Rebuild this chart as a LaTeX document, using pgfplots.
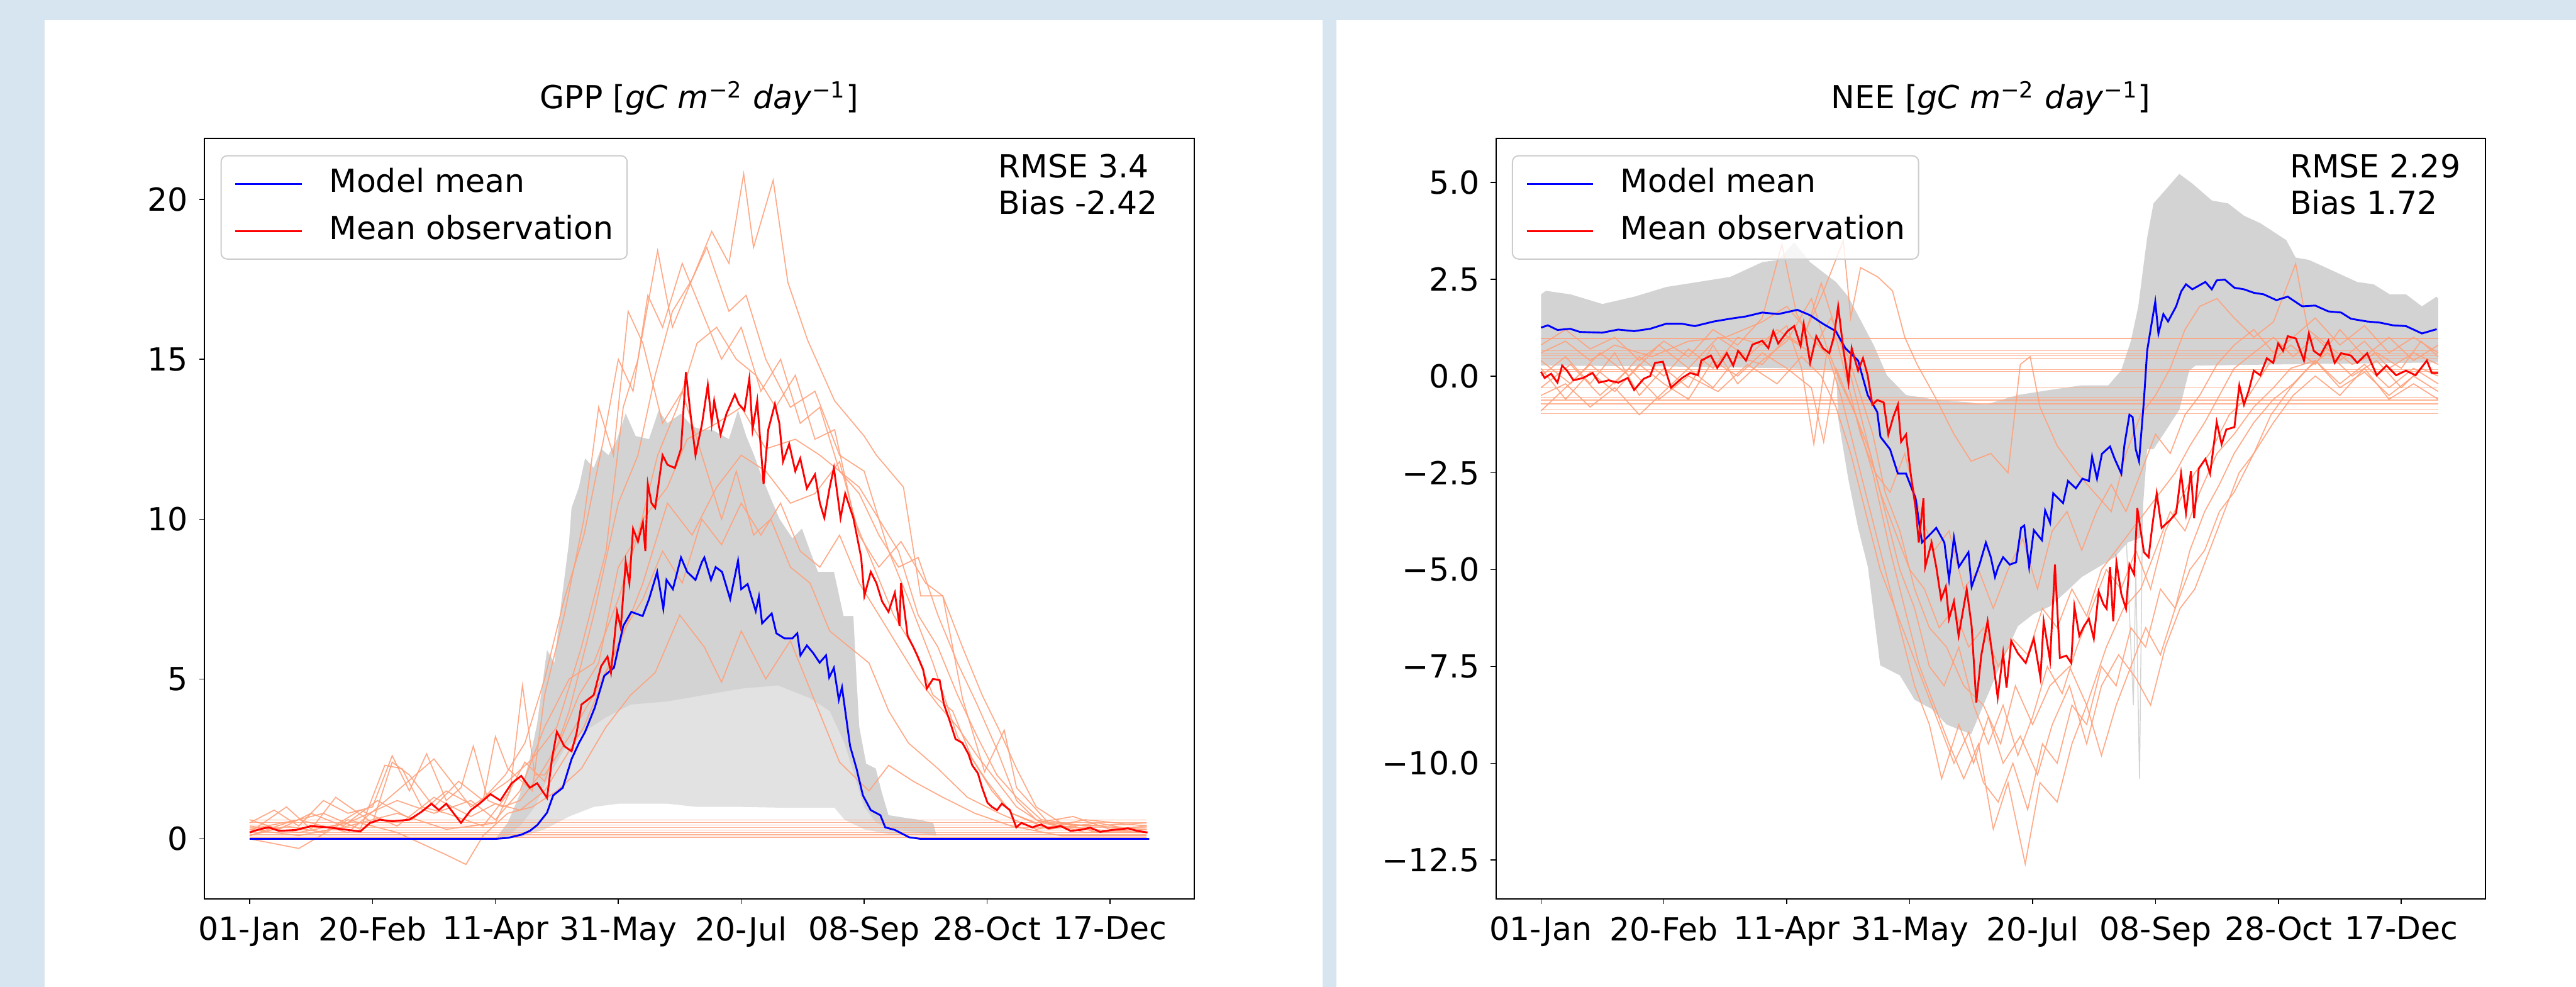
\documentclass[border=0pt]{standalone}
\usepackage{fontspec}
\setmainfont{DejaVu Sans}
\usepackage{pgfplots}
\pgfplotsset{compat=1.18}

\definecolor{bgblue}{RGB}{214,229,239}
\definecolor{obs}{RGB}{255,160,122}
\definecolor{ens}{RGB}{211,211,211}
\definecolor{enslight}{RGB}{226,226,226}
\definecolor{legframe}{RGB}{204,204,204}
\newcommand\ff{\fontsize{10.4pt}{12.5pt}\selectfont}

\pgfplotsset{
  panel/.style={
    scale only axis, width=324pt, height=248.8pt,
    xmin=-18.3, xmax=384.3,
    axis line style={black, line width=0.4pt},
    tick align=outside, major tick length=1.74pt,
    tick style={black, line width=0.3pt},
    xtick pos=left, ytick pos=left,
    xtick={0,50,...,350},
    xticklabels={01-Jan,20-Feb,11-Apr,31-May,20-Jul,08-Sep,28-Oct,17-Dec},
    x tick label style={font=\ff, inner sep=0pt, anchor=north, yshift=-3.8pt},
    y tick label style={font=\ff, inner sep=0pt, anchor=east, xshift=-3.5pt},
    title style={font=\ff, inner sep=0pt, at={(0.5,1)}, anchor=base, yshift=3.8pt},
    legend cell align=left,
    legend image code/.code={\draw[#1] (0pt,0pt) -- (21.7pt,0pt);},
    legend style={
      at={(0.016,0.9783)}, anchor=north west,
      draw=legframe, line width=0.4pt, rounded corners=2pt,
      fill=white, fill opacity=0.8, text opacity=1,
      font=\ff, inner xsep=4.4pt, inner ysep=4.4pt, row sep=5.8pt,
      nodes={inner sep=0pt, text height=7.6pt, text depth=2pt},
      /tikz/every odd column/.append style={column sep=8.7pt},
    },
  },
  site/.style={obs, line width=0.35pt, opacity=0.9, forget plot},
  flat/.style={obs, line width=0.25pt, opacity=0.8, forget plot},
}

\begin{document}
\begin{tikzpicture}
\fill[bgblue] (0pt,0pt) rectangle (843.4pt,323pt);
\fill[white] (14.6pt,0pt) rectangle (433pt,316.4pt);
\fill[white] (437.6pt,0pt) rectangle (843.4pt,316.4pt);

% ---------------- GPP ----------------
\begin{axis}[panel, at={(67pt,28.8pt)}, anchor=south west,
  ymin=-1.874, ymax=21.9,
  ytick={0,5,10,15,20}, yticklabels={0,5,10,15,20},
  title={GPP [\textit{gC m}\textsuperscript{−2} \textit{day}\textsuperscript{−1}]}]

% ensemble envelope (striped part)
\addplot[fill=enslight, draw=none, forget plot] coordinates {
(100,0)(105,0.5)(110,1.4)(114,2.5)(117,3.6)(121,5.9)(124,5.5)(127,7.5)(130,9.3)(131,10.35)(134,11)(136.5,11.9)(140,11.6)(143,12.2)(146,12.0)(149.5,12.5)(153,13.3)(157,12.6)(162.5,12.5)(166.4,13.4)(170,13.0)(175.5,13.3)(180,12.9)(184,12.8)(188,12.8)(195,12.5)(198.7,13.4)(202,12.6)(205.2,12.0)(208,11.4)(211.7,10.7)(215.6,10.0)(220.8,9.4)(224.7,9.7)(228,9.0)(231.2,8.35)(237.7,8.35)(241.6,6.97)(245.6,6.97)(246.9,4.97)(248,3.5)(250.8,2.35)(254.7,2.2)(257,1.5)(259.9,0.74)(266.4,0.66)(272.9,0.59)(278.1,0.5)(279.4,0.1)
(260,0.15)(250,0.3)(242,0.6)(238,0.97)(220,0.97)(200,1.0)(182,1.0)(170,1.1)(150,1.1)(140,1.0)(130,0.7)(120,0.3)(110,0.05)
} -- cycle;
% ensemble envelope (dense part)
\addplot[fill=ens, draw=none, forget plot] coordinates {
(100,0)(105,0.5)(110,1.4)(114,2.5)(117,3.6)(121,5.9)(124,5.5)(127,7.5)(130,9.3)(131,10.35)(134,11)(136.5,11.9)(140,11.6)(143,12.2)(146,12.0)(149.5,12.5)(153,13.3)(157,12.6)(162.5,12.5)(166.4,13.4)(170,13.0)(175.5,13.3)(180,12.9)(184,12.8)(188,12.8)(195,12.5)(198.7,13.4)(202,12.6)(205.2,12.0)(208,11.4)(211.7,10.7)(215.6,10.0)(220.8,9.4)(224.7,9.7)(228,9.0)(231.2,8.35)(237.7,8.35)(241.6,6.97)(245.6,6.97)(246.9,4.97)(248,3.5)(250.8,2.35)(254.7,2.2)(257,1.5)(259.9,0.74)(266.4,0.66)(272.9,0.59)(278.1,0.5)(279.4,0.1)
(272,0.2)(262,0.3)(255,0.5)(250,1.0)(246,2.0)(242,3.0)(236,4.0)(228,4.4)(215,4.8)(200,4.7)(185,4.5)(170,4.3)(155,4.2)(145,3.8)(135,3.3)(128,2.8)(122,2.0)(116,1.0)(110,0.4)(105,0.1)
} -- cycle;

% observation sites
\addplot[site] coordinates {(0,0.3)(20,0.6)(40,0.2)(60,1.5)(75,2.5)(90,1.0)(105,1.8)(115,2.5)(125,3.5)(135,6)(145,9)(152,13.5)(158,15)(166,18.4)(172,16)(180,17.5)(188,19)(195,18)(201,20.8)(205,18.5)(213,20.6)(219,17.4)(227,15.6)(238,13.7)(250,12.6)(255,12)(266,11)(273,7.6)(282,7.6)(290,4.4)(299,2.1)(307,3.4)(312,1.6)(325,0.5)(345,0.4)(365,0.3)};
\addplot[site] coordinates {(0,0.1)(15,0.5)(30,0.8)(45,0.3)(55,2.3)(62,2.2)(70,1.0)(80,0.8)(95,0.4)(105,1.4)(112,2.4)(120,1.8)(130,4)(140,7)(150,10.5)(158,12)(165,14.5)(172,16.5)(180,17.5)(186,18.5)(195,16.5)(202,17)(210,15)(220,13.5)(230,14)(240,12)(250,11.5)(260,9)(268,7.5)(278,5.5)(288,3.2)(300,1.8)(310,0.8)(325,0.3)(345,0.5)(365,0.2)};
\addplot[site] coordinates {(0,0.4)(20,0.2)(40,0.5)(60,1.2)(75,0.8)(90,1.2)(100,0.6)(110,1.5)(120,3.5)(130,5)(140,5.5)(150,7.5)(160,10)(170,11)(178,12.5)(190,13)(200,13.5)(210,12.2)(222,12.5)(232,12)(240,11.5)(248,10.8)(256,9.5)(264,8.5)(272,8.8)(280,7)(288,5.5)(296,4.2)(304,2.8)(312,1.2)(320,0.6)(340,0.2)(365,0.3)};
\addplot[site] coordinates {(0,0.0)(20,-0.3)(40,0.6)(60,0.2)(80,-0.5)(88,-0.8)(95,0.1)(105,0.8)(115,1.0)(125,1.5)(135,2.2)(145,3.5)(155,4.5)(165,5.2)(175,7)(185,6)(192,4.9)(200,6.5)(210,5)(220,6.2)(230,4.3)(240,2.4)(252,1.5)(260,2.3)(270,1.8)(282,1.3)(295,0.8)(310,0.4)(330,0.1)(365,0.1)};
\addplot[site] coordinates {(0,0.2)(15,1.0)(25,0.3)(35,1.3)(50,0.5)(58,2.4)(65,2.0)(75,1.0)(85,1.8)(95,1.2)(100,3.2)(105,2.2)(115,1.5)(120,4.5)(128,7)(136,10)(142,13.5)(148,12)(154,16.5)(160,15.5)(168,13)(176,14)(184,12)(192,10)(198,11.5)(205,9.5)(212,10)(220,8.5)(228,8)(236,6.5)(244,6)(252,5.5)(260,4)(268,3)(280,2.2)(292,1.3)(305,0.8)(320,0.3)(340,0.6)(365,0.4)};
\addplot[site] coordinates {(0,0.3)(20,0.1)(40,0.4)(60,0.8)(80,0.3)(100,0.5)(106,1.5)(111,4.8)(116,2.0)(120,2.0)(130,3.2)(140,4.5)(150,6)(160,8)(170,10.5)(180,9.5)(190,11)(200,12)(210,11.5)(220,10.5)(230,10.8)(240,11.8)(248,9.5)(256,8.5)(265,9.3)(275,8)(282,7.6)(290,6)(298,4.5)(305,3.4)(312,2.2)(320,1.0)(330,0.5)(345,0.2)(365,0.2)};
\addplot[site] coordinates {(0,0.5)(10,0.9)(20,0.4)(30,1.2)(40,0.8)(50,1.0)(58,2.6)(65,1.5)(72,2.66)(80,1.2)(86,1.6)(91,2.9)(97,1.2)(103,1.0)(110,1.2)(118,2.0)(126,3.0)(134,4.5)(142,5.5)(150,8.5)(158,9.5)(166,12)(174,13.5)(182,15.5)(190,16)(198,15)(206,14.5)(214,13.5)(222,14.5)(230,12.5)(238,12.8)(246,10)(254,8.5)(262,7)(270,6)(278,4.5)(286,4.0)(294,2.5)(302,1.5)(310,0.8)(320,0.5)(335,0.7)(350,0.3)(365,0.4)};
\addplot[site] coordinates {(0,0.1)(15,0.4)(30,0.2)(45,0.9)(60,0.4)(75,1.3)(90,0.7)(100,1.1)(110,0.9)(120,1.5)(128,2.5)(136,3.5)(144,5)(152,6.5)(160,7.5)(168,9)(176,8)(184,10)(192,9.2)(200,10.5)(208,9.5)(216,10.5)(224,9.0)(232,8.5)(240,9.5)(248,8.0)(256,7.0)(264,6.0)(272,5.0)(280,4.2)(288,3.5)(296,2.6)(304,1.8)(312,1.0)(322,0.5)(340,0.3)(365,0.2)};
\addplot[site] coordinates {(0,0.6)(12,0.3)(25,0.8)(38,0.4)(52,1.2)(66,0.6)(80,1.5)(92,1.0)(104,2.0)(112,3.0)(120,5.0)(128,7.5)(136,9.5)(144,12.5)(150,15)(156,14)(162,17)(168,16)(176,18)(184,16.5)(192,15)(200,16)(208,14)(216,15)(224,13)(232,13.5)(240,11.5)(248,11)(256,10)(264,9)(272,7)(280,6)(288,4.5)(296,3.2)(304,2.0)(312,1.3)(322,0.6)(340,0.4)(365,0.5)};
\addplot[flat] coordinates {(0,0.05)(365,0.05)};
\addplot[flat] coordinates {(0,0.13)(365,0.13)};
\addplot[flat] coordinates {(0,0.20)(365,0.20)};
\addplot[flat] coordinates {(0,0.28)(365,0.28)};
\addplot[flat] coordinates {(0,0.36)(365,0.36)};
\addplot[flat] coordinates {(0,0.43)(365,0.43)};
\addplot[flat] coordinates {(0,0.51)(365,0.51)};
\addplot[flat] coordinates {(0,0.59)(365,0.59)};

\addplot[blue, line width=0.6pt] coordinates {(0,0)(100,0)(105,0.03)(110.5,0.13)(114,0.25)(117,0.43)(121,0.82)(123.5,1.36)(127.4,1.6)(129,2.0)(131,2.5)(134,3.0)(136.5,3.35)(140.4,4.1)(144.3,5.1)(148.2,5.35)(152,6.66)(155.3,7.1)(159.9,6.97)(162.5,7.5)(165.8,8.35)(168.3,7.2)(169.6,8.1)(172.2,7.81)(175.5,8.8)(178,8.35)(181.4,8.1)(184,8.66)(185,8.8)(187.7,8.1)(189.6,8.5)(192.2,8.35)(195.5,7.5)(198.7,8.7)(200,7.81)(202.6,7.97)(205.9,7.12)(207.2,7.58)(208.5,6.74)(212.4,7.05)(214.3,6.43)(217.6,6.27)(220.8,6.27)(222.8,6.43)(224.1,5.74)(226.7,6.05)(229.3,5.81)(231.9,5.51)(234.5,5.74)(235.8,5.05)(237.7,5.35)(239.7,4.35)(241,4.74)(244.3,2.9)(246.9,2.2)(249.5,1.36)(252.7,0.9)(256.6,0.74)(258.6,0.36)(262.5,0.28)(268.3,0.05)(273,0)(366,0)};
\addlegendentry{Model mean}
\addplot[red, line width=0.6pt] coordinates {(0,0.2)(4,0.3)(7.7,0.36)(12,0.25)(19,0.28)(25,0.4)(32,0.36)(38,0.3)(45,0.23)(49,0.5)(53,0.6)(58,0.55)(65,0.6)(70,0.85)(74,1.1)(77,0.9)(80,1.1)(83,0.8)(86,0.5)(90,0.9)(93.5,1.1)(98,1.4)(102,1.2)(106.6,1.74)(110.5,1.97)(114,1.6)(117,1.74)(121,1.28)(123,2.5)(125,3.35)(128,2.9)(131,2.74)(133,3.3)(135,4.2)(140,4.5)(143,5.4)(145.6,5.7)(147,5.2)(149.5,7.1)(151,6.6)(153,8.66)(154.5,8.0)(156,9.7)(158,9.3)(160,9.9)(161,9.0)(162,11.1)(163.5,10.5)(165,10.35)(168,12.0)(170,11.7)(173,11.6)(175.5,12.2)(177.5,14.6)(179.5,13.2)(181.4,12.0)(184,12.96)(186.4,14.2)(188,13.0)(189,13.7)(191.6,12.65)(194,13.3)(197.4,13.9)(199,13.6)(201.3,13.4)(203.3,14.4)(204.6,12.8)(206.5,13.7)(209.1,11.1)(211,12.8)(213.7,13.6)(215.5,13.0)(217,11.8)(219.5,12.35)(222,11.5)(224,11.9)(226.7,10.96)(230,11.4)(232,10.5)(233.8,10.04)(236,11.0)(237.7,11.6)(240.4,10.04)(242.3,10.8)(245.6,10.04)(247,9.5)(248.8,8.8)(250.1,7.6)(252.7,8.35)(255,8.0)(257.3,7.43)(259.9,7.1)(262.5,7.7)(264.4,6.66)(265,8.0)(267.7,6.35)(270,6.0)(271.6,5.74)(274,5.3)(275.5,4.7)(278,5.0)(280.7,4.97)(282.5,4.2)(284.6,3.74)(287.2,3.12)(290,3.0)(292.4,2.66)(294,2.3)(296.3,2.05)(298,1.6)(300.2,1.13)(302,1.0)(304.1,0.9)(306,1.1)(309.3,0.9)(311.9,0.36)(314,0.5)(318.4,0.36)(322,0.45)(325,0.33)(330,0.4)(334,0.25)(338,0.28)(342,0.35)(346,0.22)(351,0.28)(354,0.3)(357.4,0.33)(361,0.25)(365.3,0.2)};
\addlegendentry{Mean observation}

\node[anchor=base west, font=\ff, inner sep=0pt] at (rel axis cs:0.8016,0.9486) {RMSE 3.4};
\node[anchor=base west, font=\ff, inner sep=0pt] at (rel axis cs:0.8016,0.9003) {Bias -2.42};
\end{axis}

% ---------------- NEE ----------------
\begin{axis}[panel, at={(489.8pt,28.8pt)}, anchor=south west,
  ymin=-13.5, ymax=6.13,
  ytick={-12.5,-10,-7.5,-5,-2.5,0,2.5,5},
  yticklabels={−12.5,−10.0,−7.5,−5.0,−2.5,0.0,2.5,5.0},
  title={NEE [\textit{gC m}\textsuperscript{−2} \textit{day}\textsuperscript{−1}]}]

\addplot[fill=ens, draw=none, forget plot] coordinates {
(0,2.11)(2,2.2)(12,2.11)(25,1.86)(38,2.05)(51,2.3)(64,2.43)(77,2.56)(90,2.94)(96.5,3.0)(103,3.45)(109.5,2.94)(116,2.62)(120,2.43)(125,2.05)(130.3,1.41)(135.5,0.78)(140.7,0.02)(148.5,-0.49)(161.5,-0.62)(174.5,-0.68)(180.8,-0.74)(194,-0.49)(207,-0.36)(220,-0.24)(230.8,-0.24)(236,0.14)(240,0.91)(243,1.8)(245.3,2.94)(246.6,3.57)(249.2,4.46)(254.5,4.84)(259.7,5.22)(265,4.97)(273,4.53)(279.5,4.46)(286,4.14)(292.6,3.95)(303.2,3.51)(307,3.06)(312.4,3.0)(319,2.81)(325.5,2.62)(332,2.43)(338.7,2.37)(345.3,2.11)(351.9,2.11)(358.4,1.8)(364.3,2.05)(365,2.0)
(365,0.35)(300,0.3)(266.3,0.27)(263.7,0.14)(259.7,-0.87)(254.5,-1.38)(249.2,-1.89)(246.6,-1.89)(244,-4.17)(238.7,-4.3)(233.4,-4.68)(226.9,-4.93)(220,-5.19)(213.7,-5.57)(207,-5.95)(200.5,-6.14)(194,-6.46)(188,-7.3)(182,-8.2)(175,-9.25)(165,-9.0)(159,-8.6)(152,-8.36)(146,-7.73)(138,-7.47)(135.5,-6.2)(133,-4.93)(129,-3.92)(125,-2.65)(121,-1.13)(120,0.14)(100,0.2)(50,0.25)(0,0.27)
} -- cycle;
\addplot[ens, line width=0.3pt, forget plot] coordinates {(238,-4)(241,-8.5)(242,-5)(243.5,-10.4)(245,-2)(247,1)};

\addplot[site] coordinates {(0,0.6)(10,0.9)(20,0.4)(30,0.8)(45,0.5)(60,0.9)(75,1.0)(90,1.4)(100,1.8)(108,1.2)(115,2.2)(123,3.5)(126,1.5)(130,2.8)(137,2.56)(143,2.2)(148,1.0)(153,0.3)(160,-0.5)(168,-1.5)(175,-2.2)(183,-2.0)(190,-2.5)(195,0.3)(199,0.5)(203,-0.8)(210,-1.8)(218,-2.5)(225,-3.0)(232,-3.5)(238,-2.0)(244,-1.0)(250,-0.5)(256,0.2)(262,1.2)(268,1.8)(275,2.0)(282,1.5)(290,1.0)(298,1.4)(307,2.9)(312,1.2)(320,0.8)(330,0.3)(340,0.6)(350,0.2)(358,0.9)(365,0.5)};
\addplot[site] coordinates {(0,-0.5)(10,-0.2)(20,-0.8)(30,-0.3)(40,-1.0)(50,-0.4)(60,0.2)(70,-0.3)(80,0.5)(90,0.3)(100,1.0)(110,0.6)(118,1.5)(125,0.5)(130,-0.5)(135,-1.5)(140,-3.0)(146,-4.0)(152,-5.5)(158,-6.5)(165,-7.0)(172,-8.0)(180,-8.5)(187,-9.5)(193,-8.0)(200,-9.0)(207,-8.0)(215,-7.5)(222,-8.5)(230,-7.0)(237,-6.0)(244,-5.5)(250,-4.5)(256,-3.5)(262,-4.0)(268,-3.0)(275,-2.0)(282,-1.5)(290,-0.8)(298,-0.3)(305,0.2)(315,0.4)(325,-0.2)(335,0.3)(345,-0.3)(355,0.2)(365,-0.2)};
\addplot[site] coordinates {(0,0.2)(10,-0.6)(20,0.1)(30,-0.4)(40,0.3)(50,-0.2)(60,-0.6)(70,0.4)(80,0.0)(90,0.6)(100,0.2)(110,-0.3)(115,-1.7)(120,0.2)(128,-1.0)(135,-2.5)(142,-4.5)(148,-6.0)(154,-7.5)(160,-8.5)(166,-9.5)(172,-10.4)(178,-9.5)(184,-11.7)(190,-10.5)(197,-12.6)(203,-10.5)(210,-11.0)(216,-9.5)(222,-8.5)(228,-9.8)(234,-8.5)(240,-7.5)(246,-6.5)(252,-7.2)(258,-6.0)(264,-5.0)(270,-4.5)(276,-3.5)(282,-3.0)(290,-2.0)(298,-1.2)(306,-0.5)(315,0.0)(325,-0.5)(335,0.2)(345,-0.6)(355,-0.2)(365,-0.6)};
\addplot[site] coordinates {(0,0.8)(10,1.2)(20,0.7)(30,1.0)(40,0.4)(50,0.9)(60,0.5)(70,1.2)(80,0.8)(90,1.5)(98,3.4)(104,1.6)(110,1.0)(117,0.5)(122,-0.5)(128,-2.0)(134,-3.5)(140,-5.0)(146,-6.5)(152,-8.0)(158,-9.0)(163,-10.4)(170,-9.0)(176,-10.0)(182,-8.8)(188,-10.0)(195,-9.3)(202,-10.3)(208,-9.0)(215,-8.0)(222,-9.5)(228,-8.0)(235,-7.2)(242,-7.8)(248,-8.5)(254,-7.0)(260,-6.0)(266,-5.5)(272,-4.5)(278,-3.5)(284,-2.5)(290,-2.0)(297,-1.0)(305,-0.3)(312,0.2)(320,0.6)(330,0.0)(340,0.4)(350,-0.3)(358,0.2)(365,0.0)};
\addplot[site] coordinates {(0,-0.9)(10,-0.3)(20,0.3)(30,-0.2)(40,0.5)(50,0.0)(60,0.7)(70,0.2)(80,1.0)(90,0.8)(100,1.3)(106,0.2)(111,-1.76)(116,0.5)(120,1.0)(124,0.0)(130,-1.5)(136,-2.5)(142,-3.0)(148,-2.0)(154,-3.5)(160,-4.5)(166,-4.0)(172,-5.5)(178,-5.0)(184,-6.0)(190,-5.0)(196,-4.2)(202,-5.5)(208,-4.0)(214,-3.5)(220,-4.5)(226,-3.5)(232,-2.8)(238,-3.5)(244,-2.5)(250,-1.5)(256,-2.0)(262,-1.0)(268,-0.5)(275,0.3)(282,0.8)(290,1.2)(298,0.6)(306,1.0)(315,1.5)(325,0.8)(335,1.3)(345,0.6)(355,1.0)(365,0.6)};
\addplot[site] coordinates {(0,0.0)(10,0.5)(20,-0.2)(30,0.6)(40,-0.5)(50,0.2)(60,-0.3)(70,0.8)(80,-0.2)(90,0.4)(100,0.9)(110,2.0)(116,0.8)(122,-0.2)(128,-1.0)(134,-2.0)(140,-3.5)(146,-5.0)(152,-6.0)(158,-7.5)(164,-8.0)(170,-7.0)(176,-8.5)(182,-9.5)(188,-8.5)(194,-9.8)(200,-8.8)(206,-7.5)(212,-8.2)(218,-7.0)(224,-6.0)(230,-5.0)(236,-5.5)(242,-4.5)(248,-5.5)(254,-4.0)(260,-3.2)(266,-2.5)(272,-2.0)(280,-1.0)(288,-0.5)(296,0.3)(305,0.8)(315,0.3)(325,1.2)(335,0.5)(345,1.0)(355,0.4)(365,0.8)};
\addplot[site] coordinates {(0,0.4)(12,-0.2)(24,0.6)(36,0.0)(48,0.8)(60,0.2)(72,1.0)(84,0.5)(96,1.2)(106,0.8)(114,2.4)(120,1.2)(126,0.0)(132,-1.5)(138,-3.0)(144,-4.0)(150,-5.0)(156,-5.5)(162,-6.5)(168,-6.0)(174,-7.0)(180,-6.5)(186,-7.5)(192,-6.8)(198,-7.2)(204,-6.0)(210,-6.5)(216,-5.5)(222,-6.2)(228,-5.0)(234,-4.5)(240,-4.0)(246,-3.5)(252,-3.0)(258,-2.5)(264,-1.8)(270,-1.2)(276,-0.5)(282,0.2)(290,0.6)(298,1.0)(306,0.5)(315,1.0)(325,0.4)(335,0.9)(345,0.2)(355,0.6)(365,0.3)};
\addplot[site] coordinates {(0,-0.3)(12,0.3)(24,-0.5)(36,0.2)(48,-0.6)(60,0.0)(72,-0.4)(84,0.3)(96,-0.2)(106,0.5)(114,0.0)(120,-0.8)(126,-2.0)(132,-3.5)(138,-5.0)(144,-6.0)(150,-7.0)(156,-8.0)(162,-9.0)(168,-10.0)(174,-9.2)(180,-10.5)(186,-11.0)(192,-10.0)(198,-11.2)(204,-9.5)(210,-10.0)(216,-8.5)(222,-9.0)(228,-7.5)(234,-8.0)(240,-6.5)(246,-7.0)(252,-5.5)(258,-6.0)(264,-4.5)(270,-3.5)(276,-2.8)(282,-2.0)(290,-1.2)(298,-0.6)(306,-0.2)(315,0.4)(325,-0.3)(335,0.1)(345,-0.5)(355,0.0)(365,-0.4)};
\addplot[flat] coordinates {(0,0.97)(365,0.97)};
\addplot[flat] coordinates {(0,0.65)(365,0.65)};
\addplot[flat] coordinates {(0,0.59)(365,0.59)};
\addplot[flat] coordinates {(0,0.53)(365,0.53)};
\addplot[flat] coordinates {(0,0.46)(365,0.46)};
\addplot[flat] coordinates {(0,0.17)(365,0.17)};
\addplot[flat] coordinates {(0,0.12)(365,0.12)};
\addplot[flat] coordinates {(0,-0.30)(365,-0.30)};
\addplot[flat] coordinates {(0,-0.55)(365,-0.55)};
\addplot[flat] coordinates {(0,-0.62)(365,-0.62)};
\addplot[flat] coordinates {(0,-0.72)(365,-0.72)};
\addplot[flat] coordinates {(0,-0.87)(365,-0.87)};
\addplot[flat] coordinates {(0,-0.97)(365,-0.97)};

\addplot[blue, line width=0.6pt] coordinates {(0,1.25)(2.8,1.31)(6.7,1.19)(11.9,1.22)(15.8,1.14)(24.9,1.12)(31.4,1.2)(37.9,1.16)(44.4,1.22)(50.9,1.35)(57.4,1.35)(62.6,1.29)(70.4,1.41)(77,1.48)(83.4,1.54)(90,1.64)(96.5,1.6)(104.3,1.71)(109.5,1.57)(114.7,1.35)(119.9,1.16)(123.8,0.72)(129,0.4)(132.9,-0.49)(136.8,-0.93)(138.1,-1.57)(142,-1.89)(145.2,-2.52)(148.5,-2.52)(152.4,-3.16)(155,-4.3)(158.9,-4.05)(160.8,-3.92)(164.1,-4.3)(166,-5.25)(168,-4.17)(170,-4.93)(173.9,-4.55)(175.2,-5.44)(178.4,-4.87)(181,-4.3)(183,-4.68)(184.7,-5.19)(186,-4.93)(188,-4.68)(190.7,-4.87)(193.3,-4.81)(195.3,-3.92)(196.6,-3.86)(198.6,-4.93)(200.5,-3.98)(203.8,-4.24)(205.1,-3.47)(207.1,-3.79)(208.4,-3.03)(212.4,-3.28)(214.4,-2.71)(217.6,-2.9)(220.3,-2.65)(222.9,-2.71)(224.2,-2.08)(226.2,-2.65)(228.2,-2.01)(231.5,-1.82)(233.4,-2.14)(236.1,-2.52)(237.4,-1.76)(239.4,-1.0)(240.7,-1.06)(242,-1.9)(243.3,-2.2)(245.3,-0.62)(246.6,0.65)(247.9,1.16)(249.9,1.92)(251.2,1.1)(253.2,1.6)(255.1,1.41)(258.4,1.8)(260.4,2.18)(262.4,2.37)(265,2.24)(270.3,2.43)(272.9,2.24)(274.9,2.47)(278.2,2.49)(282.1,2.28)(286,2.24)(290,2.15)(294,2.11)(299.2,1.96)(303.8,2.05)(309.7,1.8)(315,1.82)(320.3,1.67)(325.5,1.64)(329.5,1.48)(336,1.41)(341.3,1.38)(346.6,1.31)(351.9,1.29)(358.4,1.1)(364.4,1.21)};
\addlegendentry{Model mean}
\addplot[red, line width=0.6pt] coordinates {(0,0.11)(1.5,-0.05)(4.1,0.06)(6.7,-0.17)(8.6,0.27)(10.6,0.14)(13.2,-0.11)(17.1,-0.05)(21,0.08)(23.6,-0.17)(27.5,-0.11)(31.4,-0.17)(35.3,-0.05)(37.9,-0.36)(41.8,-0.07)(44.4,0.0)(46.4,0.34)(49.6,0.37)(52.9,-0.3)(57.4,-0.05)(60.7,0.08)(63.9,0.02)(65.2,0.4)(69.1,0.53)(71.7,0.21)(75.6,0.59)(78.2,0.27)(80.2,0.65)(83.4,0.4)(86,0.81)(90,0.91)(92.5,0.72)(94.5,1.16)(96.5,0.84)(100.3,1.16)(103,1.29)(105.6,0.78)(106.9,1.35)(109.5,0.34)(112,1.03)(114.7,0.72)(117.3,0.59)(119.2,1.03)(120.9,1.8)(123.1,0.65)(125.1,-0.17)(126.4,0.72)(129,0.14)(131,0.46)(132.9,0.02)(134.8,-0.74)(136.8,-0.62)(139.4,-0.68)(141.3,-1.51)(143.3,-1.06)(145.2,-0.74)(146.5,-1.7)(148.5,-1.51)(150.4,-2.52)(152.4,-3.41)(153.7,-4.3)(155.6,-3.16)(156.3,-4.93)(158.9,-4.3)(160.8,-4.93)(162.8,-5.76)(164.7,-5.44)(166,-6.27)(168,-5.82)(169.9,-6.71)(173.2,-5.51)(175.2,-6.46)(177.1,-8.43)(179.1,-7.22)(181.7,-6.33)(183.4,-7.09)(185.8,-8.3)(188,-7.16)(189.4,-8.05)(191.3,-6.84)(194,-7.16)(197.2,-7.41)(200.5,-6.78)(203.2,-7.79)(204.5,-6.33)(207.1,-7.35)(209.1,-4.87)(211.1,-7.28)(213.7,-7.22)(215.7,-7.41)(217,-5.95)(219,-6.71)(220.9,-6.46)(222.9,-6.27)(224.9,-6.78)(226.9,-5.57)(228.8,-5.89)(230.1,-6.01)(231.5,-4.93)(232.8,-6.33)(234.1,-4.81)(236.1,-5.63)(238,-6.01)(239.4,-4.87)(241.3,-5.12)(242.6,-3.41)(245.3,-4.55)(247.2,-4.68)(248.6,-3.92)(250.5,-3.03)(252.5,-3.92)(255.8,-3.73)(258.4,-3.54)(260.4,-2.52)(262.4,-3.54)(264.4,-2.46)(265.7,-3.67)(267.6,-2.39)(270.3,-2.14)(272.2,-2.52)(274.9,-1.19)(276.9,-1.76)(278.8,-1.38)(282.1,-1.32)(284.1,-0.24)(286,-0.74)(288,-0.36)(290,0.14)(292.6,0.02)(295.3,0.46)(297.9,0.34)(299.9,0.84)(301.9,0.65)(303.8,1.03)(307.1,0.97)(310.4,0.4)(312.4,1.1)(314.4,0.65)(317,0.53)(320.3,0.91)(322.9,0.34)(325.5,0.59)(329.5,0.53)(332.1,0.34)(336.1,0.59)(340,0.02)(344,0.27)(347.9,0.02)(351.9,0.14)(355.8,0.02)(360.4,0.4)(362.4,0.08)(365,0.08)};
\addlegendentry{Mean observation}

\node[anchor=base west, font=\ff, inner sep=0pt] at (rel axis cs:0.8016,0.9486) {RMSE 2.29};
\node[anchor=base west, font=\ff, inner sep=0pt] at (rel axis cs:0.8016,0.9003) {Bias 1.72};
\end{axis}

\pgfresetboundingbox
\useasboundingbox (0pt,0pt) rectangle (843.4pt,323pt);
\end{tikzpicture}
\end{document}
